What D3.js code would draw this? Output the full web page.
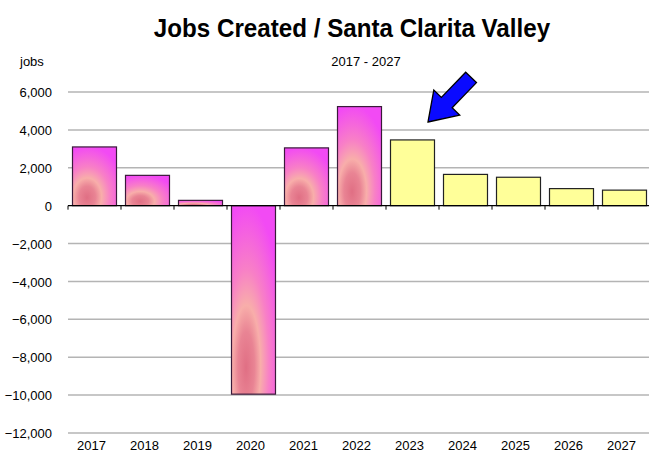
<!DOCTYPE html>
<html>
<head>
<meta charset="utf-8">
<title>Jobs Created / Santa Clarita Valley</title>
<style>
  body { margin: 0; background: #fff; }
  svg text { font-family: "Liberation Sans Narrow", "Arial Narrow", "Liberation Sans", Arial, sans-serif; fill: #000; }
  .title { font-size: 26px; font-weight: bold; text-anchor: middle; }
  .sub { font-size: 13px; text-anchor: middle; }
  .grid line { stroke: #b4b4b4; stroke-width: 1.5; }
  .ylab text { font-size: 13px; }
</style>
<script src="https://cdn.jsdelivr.net/npm/d3@7"></script>
</head>
<body>
<script>
// data
var years = ["2017","2018","2019","2020","2021","2022","2023","2024","2025","2026","2027"];
var jobs  = [3100, 1600, 280, -9950, 3050, 5230, 3470, 1650, 1500, 900, 820];
var actual = [true, true, true, true, true, true, false, false, false, false, false];
var yTicks = [6000, 4000, 2000, 0, -2000, -4000, -6000, -8000, -10000, -12000];

var width = 649, height = 462;
var svg = d3.select("body").append("svg").attr("width", width).attr("height", height);

var x = d3.scaleBand().domain(years).range([68, 651]).paddingInner(0.17).paddingOuter(0.085);
var y = d3.scaleLinear().domain([-12000, 6000]).range([433, 92]);

// pink radial fill for the real years
var defs = svg.append("defs");
var rg = defs.append("radialGradient").attr("id", "pink")
  .attr("cx", 0.35).attr("cy", 0.84).attr("r", 0.85).attr("fx", 0.33).attr("fy", 0.86);
rg.append("stop").attr("offset", 0).attr("stop-color", "#e06f84");
rg.append("stop").attr("offset", 0.22).attr("stop-color", "#e98494");
rg.append("stop").attr("offset", 0.38).attr("stop-color", "#f8aeaa");
rg.append("stop").attr("offset", 0.6).attr("stop-color", "#f880c6");
rg.append("stop").attr("offset", 1).attr("stop-color", "#f24af4");

// titles
svg.append("text").attr("class", "title")
  .attr("transform", "translate(352,37) scale(0.93,1)").text("Jobs Created / Santa Clarita Valley");
svg.append("text").attr("class", "sub").attr("x", 366).attr("y", 66).text("2017  - 2027");
svg.append("text").attr("x", 20).attr("y", 66).style("font-size", "13px").text("jobs");

// gridlines
svg.append("g").attr("class", "grid")
  .selectAll("line").data(yTicks.filter(function(d){ return d !== 0; })).enter().append("line")
  .attr("x1", 68).attr("x2", width).attr("y1", function(d){ return y(d); }).attr("y2", function(d){ return y(d); });

// y labels
var yAxis = d3.axisLeft(y).tickValues(yTicks).tickSize(0).tickPadding(0)
  .tickFormat(function(d){ return d3.format(",")(d); });
var gy = svg.append("g").attr("class", "ylab").attr("transform", "translate(52,0)").call(yAxis);
gy.select(".domain").remove();
gy.selectAll("text").attr("dy", "0.35em");

// bars
svg.selectAll("rect.bar").data(years).enter().append("rect")
  .attr("class", "bar")
  .attr("x", function(d){ return x(d); })
  .attr("width", x.bandwidth())
  .attr("y", function(d, i){ return y(Math.max(0, jobs[i])); })
  .attr("height", function(d, i){ return Math.abs(y(jobs[i]) - y(0)); })
  .attr("fill", function(d, i){ return actual[i] ? "url(#pink)" : "#ffff99"; })
  .attr("stroke", function(d, i){ return actual[i] ? "#3a1a3a" : "#222"; })
  .attr("stroke-width", 1.2);

// zero axis with category ticks
var step = x.step();
svg.append("line").attr("x1", 68).attr("x2", width).attr("y1", y(0)).attr("y2", y(0))
  .attr("stroke", "#000").attr("stroke-width", 1.2);
svg.selectAll("line.tk").data(years).enter().append("line").attr("class", "tk")
  .attr("x1", function(d){ return x(d) - x.paddingInner() * step / 2; })
  .attr("x2", function(d){ return x(d) - x.paddingInner() * step / 2; })
  .attr("y1", y(0)).attr("y2", y(0) + 4).attr("stroke", "#000");

// x labels at bottom
var xAxis = d3.axisBottom(x).tickSize(0).tickPadding(0);
var gx = svg.append("g").attr("transform", "translate(-3,441)").call(xAxis);
gx.select(".domain").remove();
gx.selectAll("text").style("font-size", "13px");

// blue arrow pointing down-left at 2023
var arrow = "M0,0 L-27,-18 L-27,-7.5 L-62,-7.5 L-62,7.5 L-27,7.5 L-27,18 Z";
svg.append("path").attr("d", arrow)
  .attr("transform", "translate(428,122) rotate(134)")
  .attr("fill", "#0a0aff").attr("stroke", "#000").attr("stroke-width", 1.3);
</script>
</body>
</html>
